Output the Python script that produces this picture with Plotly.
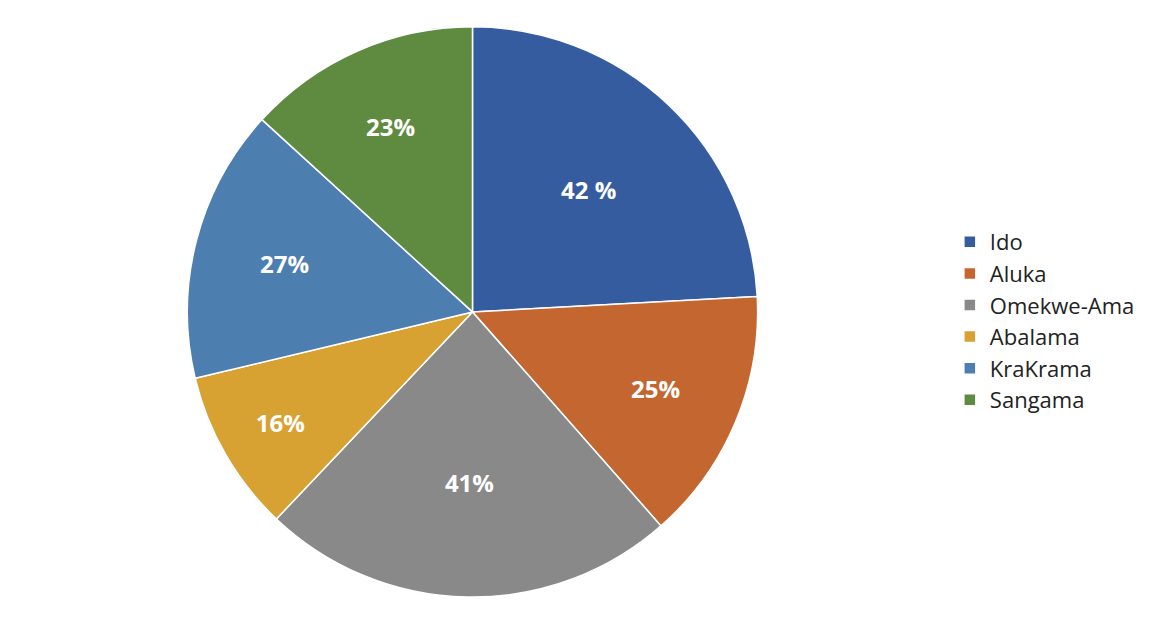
import plotly.graph_objects as go

labels = ["Ido", "Aluka", "Omekwe-Ama", "Abalama", "KraKrama", "Sangama"]
values = [42, 25, 41, 16, 27, 23]
texts = ["42 %", "25%", "41%", "16%", "27%", "23%"]
colors = ["#355C9E", "#C46630", "#898989", "#D8A232", "#4D7EB0", "#5F8B40"]

fig = go.Figure(go.Pie(
    labels=labels, values=values, text=texts, textinfo="text",
    textposition="inside", insidetextorientation="horizontal",
    textfont=dict(family="Open Sans", size=24, color="white", weight="bold"),
    marker=dict(colors=colors, line=dict(color="white", width=1.5)),
    sort=False, direction="clockwise", rotation=0,
    domain=dict(x=[0.153, 0.641], y=[0.059, 0.97]),
))
fig.update_layout(
    width=1170, height=626, margin=dict(l=0, r=0, t=0, b=0),
    paper_bgcolor="white",
    legend=dict(x=0.805, y=0.5, yanchor="middle", xanchor="left",
                font=dict(family="Open Sans", size=22, color="#222"),
                tracegroupgap=0, itemwidth=30),
)
fig.write_html("out.html")
